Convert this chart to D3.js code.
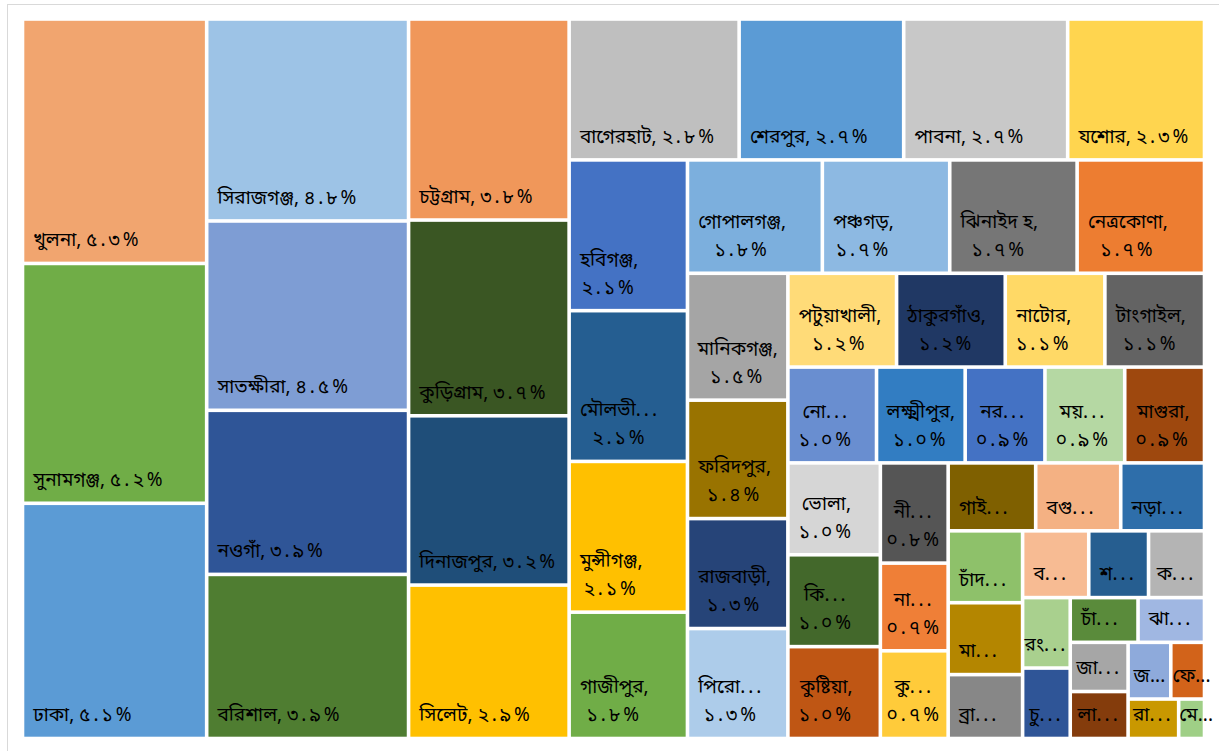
<!DOCTYPE html>
<html>
<head>
<meta charset="utf-8">
<script src="https://cdn.jsdelivr.net/npm/d3@7"></script>
<style>
  body { margin: 0; background: #fff; }
  svg { display: block; }
  .lbl { font-family: "Noto Sans Bengali", "Noto Serif Bengali", "Lohit Bengali", "Vrinda", "Nirmala UI", "FreeSerif", "Noto Sans", sans-serif; font-size: 19px; fill: #000; }
</style>
</head>
<body>
<svg id="chart" width="1219" height="751"></svg>
<script>
// ---- data (order as in the source; values are % of total) ----
const districts = [
  "খুলনা","সুনামগঞ্জ","ঢাকা","সিরাজগঞ্জ","সাতক্ষীরা","নওগাঁ","বরিশাল","চট্টগ্রাম","কুড়িগ্রাম","দিনাজপুর",
  "সিলেট","বাগেরহাট","শেরপুর","পাবনা","যশোর","হবিগঞ্জ","মৌলভীবাজার","মুন্সীগঞ্জ","গাজীপুর","গোপালগঞ্জ",
  "পঞ্চগড়","ঝিনাইদ হ","নেত্রকোণা","মানিকগঞ্জ","ফরিদপুর","রাজবাড়ী","পিরোজপুর","পটুয়াখালী","ঠাকুরগাঁও","নাটোর",
  "টাংগাইল","নোয়াখালী","লক্ষ্মীপুর","নরসিংদী","ময়মনসিংহ","মাগুরা","ভোলা","কিশোরগঞ্জ","কুষ্টিয়া","নীলফামারী",
  "নারায়ণগঞ্জ","কুমিল্লা","গাইবান্ধা","বগুড়া","নড়াইল","চাঁদপুর","মাদারীপুর","ব্রাহ্মণবাড়িয়া","বরগুনা","শরীয়তপুর",
  "কক্সবাজার","রংপুর","চুয়াডাঙ্গা","চাঁপাইনবাবগঞ্জ","ঝালকাঠি","জামালপুর","লালমনিরহাট","জয়পুরহাট","ফেনী","রাঙ্গামাটি",
  "মেহেরপুর"
];
const values = [
  5.3, 5.2, 5.1, 4.8, 4.5, 3.9, 3.9, 3.8, 3.7, 3.2,
  2.9, 2.82, 2.73, 2.72, 2.27, 2.1, 2.1, 2.1, 1.76, 1.8,
  1.7, 1.7, 1.7, 1.5, 1.4, 1.3, 1.3, 1.2, 1.2, 1.1,
  1.1, 1.0, 1.0, 0.9, 0.9, 0.9, 1.0, 1.0, 1.0, 0.8,
  0.7, 0.7, 0.70, 0.68, 0.67, 0.63, 0.63, 0.56, 0.52, 0.47,
  0.44, 0.395, 0.395, 0.357, 0.35, 0.335, 0.32, 0.285, 0.225, 0.235,
  0.12
];
const colors = [
  "#F1A56F","#70AD47","#5B9BD5","#9DC3E6","#7E9DD4","#2F5597","#4F7D31","#F0975A","#3A5623","#1F4E79",
  "#FFC000","#BFBFBF","#5B9BD5","#C8C8C8","#FFD54F","#4472C4","#255E91","#FFC000","#70AD47","#7CAFDD",
  "#8DB9E2","#767676","#ED7D31","#A5A5A5","#997300","#264478","#ADCCEA","#FFDB78","#203864","#FFD966",
  "#636363","#698ED0","#327DC2","#4472C4","#B5D8A3","#9E480E","#D6D6D6","#43682B","#BF5614","#555555",
  "#EF7F37","#FFCB3A","#7F6000","#F4B183","#2E6EAA","#8EC16A","#B48600","#878787","#F7BB93","#265E90",
  "#B4B4B4","#A9D08E","#2F5597","#5A8B3B","#A0B7E2","#A6A6A6","#843C0C","#8EAADB","#D2631A","#C99800",
  "#9FCF86"
];
// strips (0-based) that the source lays along the long side instead of the short one
const flipStrips = [8];

const bnDigits = "০১২৩৪৫৬৭৮৯";
const toBn = s => s.replace(/[0-9]/g, d => bnDigits[+d]);
const pctText = v => toBn(v.toFixed(1)) + "%";

// squarified tiling: a strip grows while the newest tile's aspect ratio improves
function stripSquarify(parent, x0, y0, x1, y1) {
  const nodes = parent.children, n = nodes.length;
  let value = parent.value, i0 = 0, strip = 0;
  while (i0 < n) {
    const dx = x1 - x0, dy = y1 - y0;
    let horiz = dx < dy;
    if (flipStrips.includes(strip)) horiz = !horiz;
    const L = horiz ? dx : dy, D = horiz ? dy : dx;
    const aspect = (s, v) => { const t = s / value * D, l = v / s * L; return Math.max(t / l, l / t); };
    let i1 = i0 + 1, sum = nodes[i0].value;
    let last = aspect(sum, nodes[i0].value);
    while (i1 < n) {
      const v = nodes[i1].value, r = aspect(sum + v, v);
      if (r > last) break;
      sum += v; last = r; i1++;
    }
    const row = { children: nodes.slice(i0, i1), value: sum };
    if (horiz) { const yy = i1 >= n ? y1 : y0 + dy * sum / value; d3.treemapDice(row, x0, y0, x1, yy); y0 = yy; }
    else { const xx = i1 >= n ? x1 : x0 + dx * sum / value; d3.treemapSlice(row, x0, y0, xx, y1); x0 = xx; }
    value -= sum; i0 = i1; strip++;
  }
}

const svg = d3.select("#chart");
svg.append("rect").attr("x", 7.5).attr("y", 4.5).attr("width", 1230).attr("height", 770)
  .attr("fill", "#fff").attr("stroke", "#D9D9D9").attr("stroke-width", 1);

const X0 = 22.5, Y0 = 19, X1 = 1204.5, Y1 = 738.5;
const data = districts.map((name, i) => ({ name, value: values[i], color: colors[i] }));
const root = d3.hierarchy({ children: data }).sum(d => d.value || 0);
d3.treemap().tile(stripSquarify).size([X1 - X0, Y1 - Y0]).round(false)(root);

const g = svg.append("g").attr("transform", `translate(${X0},${Y0})`);
const gap = 1.8;
const leaves = root.leaves();
g.selectAll("rect.cell").data(leaves).join("rect").attr("class", "cell")
  .attr("x", d => d.x0 + gap).attr("y", d => d.y0 + gap)
  .attr("width", d => Math.max(0, d.x1 - d.x0 - 2 * gap))
  .attr("height", d => Math.max(0, d.y1 - d.y0 - 2 * gap))
  .attr("fill", d => d.data.color);

// text with wider spacing for numerals / dots (as in the source font)
function setLine(sel, str, tight) {
  sel.selectAll("tspan").remove();
  str.split(/([০-৯.%]+)/).filter(s => s).forEach(part => {
    const t = sel.append("tspan").text(part);
    if (/^[০-৯.%]+$/.test(part)) t.attr("letter-spacing", tight ? "0px" : "3px");
  });
  return sel;
}
const meas = svg.append("text").attr("class", "lbl").attr("x", -2000).attr("y", -2000);
const tw = (s, tight) => { setLine(meas, s, tight); return meas.node().getComputedTextLength(); };
const seg = (typeof Intl !== "undefined" && Intl.Segmenter) ? new Intl.Segmenter("bn", { granularity: "grapheme" }) : null;
const graphemes = s => seg ? Array.from(seg.segment(s), x => x.segment) : Array.from(s);
function truncate(s, budget) {
  const gs = graphemes(s);
  for (let k = gs.length - 1; k >= 1; k--) {
    const t = gs.slice(0, k).join("").replace(/[,\s]+$/, "") + "...";
    if (tw(t) <= budget) return t;
  }
  return gs[0] + "...";
}

const pad = 9, lineH = 28, bottomOff = 22, rightLimit = 1213 - X0;
leaves.forEach(d => {
  const w = d.x1 - d.x0 - 2 * gap, h = d.y1 - d.y0 - 2 * gap;
  const avail = w - pad - 2, budget = (w - pad) * 0.81;
  const name = d.data.name, pct = pctText(d.data.value);
  const full = name + ", " + pct;
  let lines;
  if (tw(full) <= avail) lines = [full];
  else if (h >= 80) {
    const l1 = tw(name + ",") <= avail ? name + "," : truncate(name + ",", budget);
    const l2 = tw(pct) <= w - 4 ? pct : truncate(pct, budget);
    lines = [l1, l2];
  } else lines = [truncate(full, budget)];
  const tight = lines.some(ln => tw(ln) > w);
  const widths = lines.map(ln => tw(ln, tight));
  const bw = Math.max(...widths);
  let left = d.x0 + gap + Math.min(pad, Math.max(0, (w - bw) / 2));
  if (left + bw > rightLimit) left = rightLimit - bw;
  const lastY = d.y1 - gap - bottomOff;
  lines.forEach((ln, i) => {
    const y = lastY - (lines.length - 1 - i) * lineH;
    const t = g.append("text").attr("class", "lbl").attr("dy", "0.35em").attr("y", y);
    setLine(t, ln, tight);
    if (lines.length === 1) t.attr("x", left);
    else t.attr("x", left + bw / 2).attr("text-anchor", "middle");
  });
});
meas.remove();
</script>
</body>
</html>
